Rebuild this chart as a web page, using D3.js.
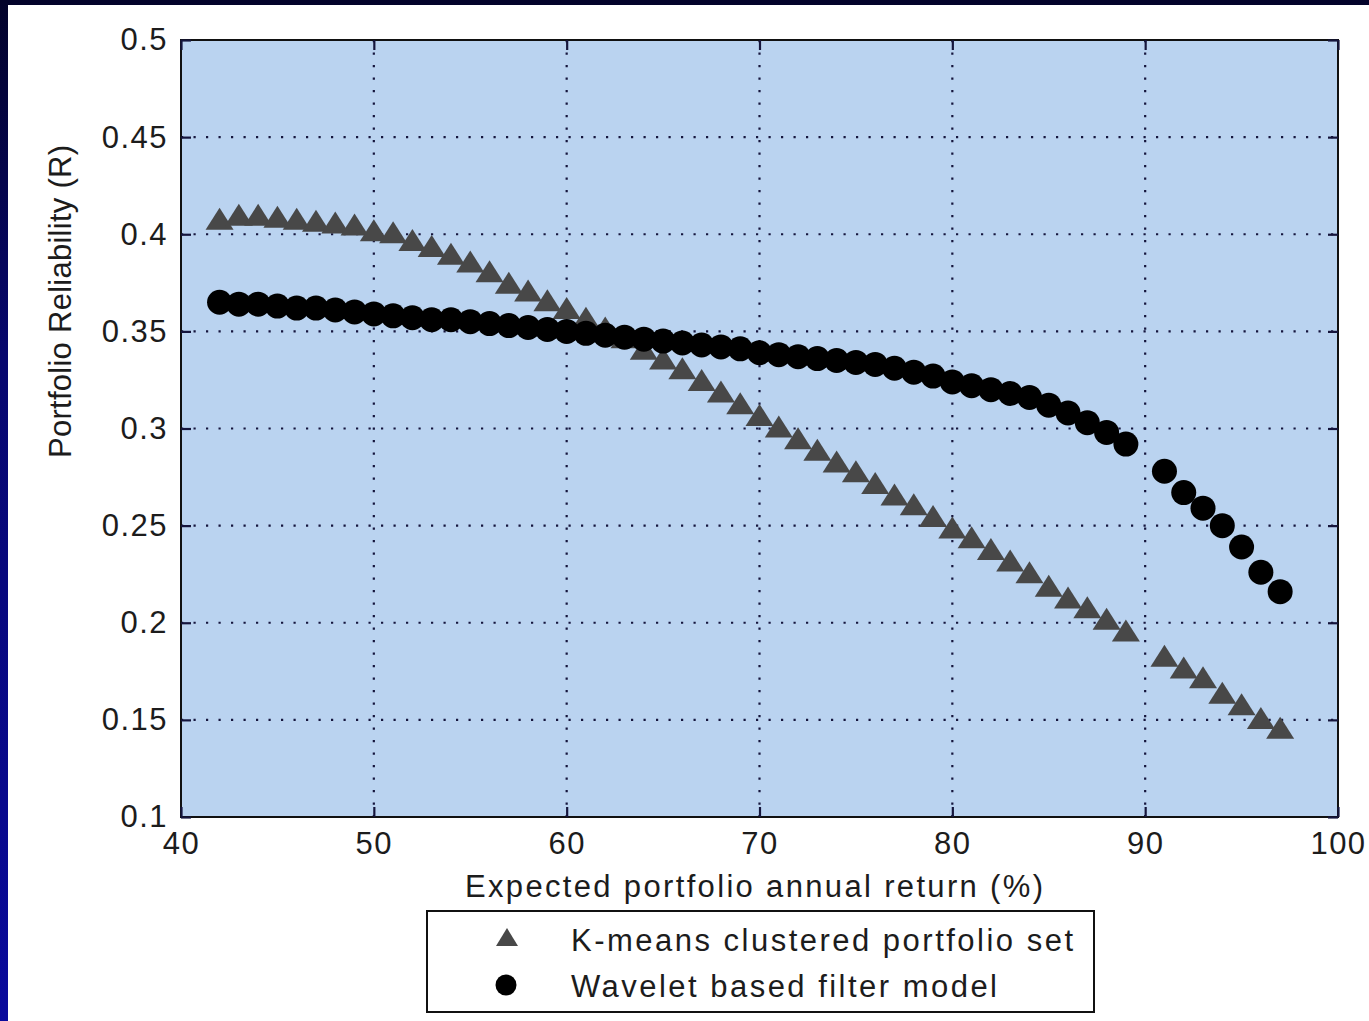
<!DOCTYPE html>
<html>
<head>
<meta charset="utf-8">
<script src="https://cdn.jsdelivr.net/npm/d3@7"></script>
<style>
  html, body { margin: 0; padding: 0; background: #05054a; }
  svg { display: block; }
  text { font-family: "Liberation Sans", Arial, sans-serif; fill: #1c1c1c; }
</style>
</head>
<body>
<svg id="chart" width="1369" height="1021"></svg>
<script>
// Expected annual return (%) of each portfolio on the frontier
const returnPct = [42, 43, 44, 45, 46, 47, 48, 49, 50, 51, 52, 53, 54, 55, 56, 57, 58, 59, 60,
  61, 62, 63, 64, 65, 66, 67, 68, 69, 70, 71, 72, 73, 74, 75, 76, 77, 78, 79, 80,
  81, 82, 83, 84, 85, 86, 87, 88, 89, 91, 92, 93, 94, 95, 96, 97];

// Portfolio reliability for the K-means clustered set
const kmeansReliability = [0.408, 0.410, 0.410, 0.409, 0.408, 0.407, 0.406, 0.405, 0.402,
  0.401, 0.397, 0.394, 0.390, 0.386, 0.381, 0.375, 0.371, 0.366, 0.362,
  0.357, 0.352, 0.347, 0.341, 0.336, 0.331, 0.325, 0.319, 0.313, 0.307,
  0.301, 0.295, 0.289, 0.283, 0.278, 0.272, 0.266, 0.261, 0.255, 0.249,
  0.244, 0.238, 0.232, 0.226, 0.219, 0.213, 0.208, 0.202, 0.196,
  0.183, 0.177, 0.172, 0.164, 0.158, 0.151, 0.146];

// Portfolio reliability for the wavelet based filter model
const waveletReliability = [0.365, 0.364, 0.364, 0.363, 0.362, 0.362, 0.361, 0.360, 0.359,
  0.358, 0.357, 0.356, 0.356, 0.355, 0.354, 0.353, 0.352, 0.351, 0.350,
  0.349, 0.348, 0.347, 0.346, 0.345, 0.344, 0.343, 0.342, 0.341, 0.339,
  0.338, 0.337, 0.336, 0.335, 0.334, 0.333, 0.331, 0.329, 0.327, 0.324,
  0.322, 0.320, 0.318, 0.316, 0.312, 0.308, 0.303, 0.298, 0.292,
  0.278, 0.267, 0.259, 0.250, 0.239, 0.226, 0.216];

const xTickValues = [40, 50, 60, 70, 80, 90, 100];
const xTickLabels = ["40", "50", "60", "70", "80", "90", "100"];
const yTickValues = [0.1, 0.15, 0.2, 0.25, 0.3, 0.35, 0.4, 0.45, 0.5];
const yTickLabels = ["0.1", "0.15", "0.2", "0.25", "0.3", "0.35", "0.4", "0.45", "0.5"];

const seriesNames = ["K-means clustered portfolio set", "Wavelet based filter model"];
const xAxisTitle = "Expected portfolio annual return (%)";
const yAxisTitle = "Portfolio Reliability (R)";

const W = 1369, H = 1021;
const plot = { left: 181, top: 40, right: 1338, bottom: 817 };

const svg = d3.select("#chart");

// Slide backdrop: dark blue gradient with the white figure panel on top
const defs = svg.append("defs");
const grad = defs.append("linearGradient").attr("id", "slideBg")
  .attr("x1", 0).attr("y1", 0).attr("x2", 0).attr("y2", 1);
grad.append("stop").attr("offset", 0).attr("stop-color", "#03032a");
grad.append("stop").attr("offset", 0.35).attr("stop-color", "#07076e");
grad.append("stop").attr("offset", 1).attr("stop-color", "#0a0a9c");
svg.append("rect").attr("width", W).attr("height", H).attr("fill", "url(#slideBg)");
svg.append("rect").attr("x", 8).attr("y", 5).attr("width", W - 8).attr("height", H - 5)
  .attr("fill", "#ffffff");

const x = d3.scaleLinear().domain([40, 100]).range([plot.left, plot.right]);
const y = d3.scaleLinear().domain([0.1, 0.5]).range([plot.bottom, plot.top]);

// Plot area
svg.append("rect")
  .attr("x", plot.left).attr("y", plot.top)
  .attr("width", plot.right - plot.left).attr("height", plot.bottom - plot.top)
  .attr("fill", "#bad3f0");

// Dotted grid
const grid = svg.append("g").attr("stroke", "#15153c").attr("stroke-width", 2.2)
  .attr("stroke-dasharray", "2.2 10.3");
grid.selectAll("line.gx").data(xTickValues.slice(1, -1)).join("line").attr("class", "gx")
  .attr("x1", d => x(d)).attr("x2", d => x(d))
  .attr("y1", plot.top).attr("y2", plot.bottom);
grid.selectAll("line.gy").data(yTickValues.slice(1, -1)).join("line").attr("class", "gy")
  .attr("y1", d => y(d)).attr("y2", d => y(d))
  .attr("x1", plot.left).attr("x2", plot.right);

// Markers
const triHalfW = 14, triHalfH = 11;
const trianglePath = `M0,${-triHalfH}L${triHalfW},${triHalfH}L${-triHalfW},${triHalfH}Z`;

const kmeansData = returnPct.map((r, i) => ({ r, v: kmeansReliability[i] }));
const waveletData = returnPct.map((r, i) => ({ r, v: waveletReliability[i] }));

svg.append("g").selectAll("path").data(kmeansData).join("path")
  .attr("d", trianglePath)
  .attr("transform", d => `translate(${x(d.r)},${y(d.v)})`)
  .attr("fill", "#484848");

svg.append("g").selectAll("circle").data(waveletData).join("circle")
  .attr("cx", d => x(d.r)).attr("cy", d => y(d.v)).attr("r", 12.5)
  .attr("fill", "#000000");

// Axes frame
svg.append("rect")
  .attr("x", plot.left).attr("y", plot.top)
  .attr("width", plot.right - plot.left).attr("height", plot.bottom - plot.top)
  .attr("fill", "none").attr("stroke", "#111111").attr("stroke-width", 2);

// Inward ticks on all four sides, labels on bottom and left
const tickLen = 10;
const xAxisB = d3.axisBottom(x).tickValues(xTickValues).tickSizeInner(-tickLen).tickSizeOuter(0)
  .tickFormat((d, i) => xTickLabels[i]).tickPadding(15);
const xAxisT = d3.axisTop(x).tickValues(xTickValues).tickSizeInner(-tickLen).tickSizeOuter(0)
  .tickFormat("");
const yAxisL = d3.axisLeft(y).tickValues(yTickValues).tickSizeInner(-tickLen).tickSizeOuter(0)
  .tickFormat((d, i) => yTickLabels[i]).tickPadding(13);
const yAxisR = d3.axisRight(y).tickValues(yTickValues).tickSizeInner(-tickLen).tickSizeOuter(0)
  .tickFormat("");

function styleAxis(g) {
  g.select(".domain").remove();
  g.selectAll(".tick line").attr("stroke", "#15153c").attr("stroke-width", 2.2);
  g.selectAll(".tick text")
    .attr("fill", "#1c1c1c")
    .style("font-family", "'Liberation Sans', Arial, sans-serif")
    .style("font-size", "31px")
    .style("letter-spacing", "1.5px");
}

svg.append("g").attr("transform", `translate(0,${plot.bottom})`).call(xAxisB).call(styleAxis)
  .selectAll(".tick text").attr("dy", "0.71em");
svg.append("g").attr("transform", `translate(0,${plot.top})`).call(xAxisT).call(styleAxis);
svg.append("g").attr("transform", `translate(${plot.left},0)`).call(yAxisL).call(styleAxis);
svg.append("g").attr("transform", `translate(${plot.right},0)`).call(yAxisR).call(styleAxis);

// Axis titles
svg.append("text")
  .attr("x", 465).attr("y", 897)
  .attr("textLength", 578).attr("lengthAdjust", "spacing")
  .style("font-size", "31px")
  .text(xAxisTitle);

svg.append("text")
  .attr("transform", "translate(71,458) rotate(-90)")
  .attr("textLength", 313).attr("lengthAdjust", "spacing")
  .style("font-size", "31px")
  .text(yAxisTitle);

// Legend
const legend = svg.append("g");
legend.append("rect")
  .attr("x", 427).attr("y", 911).attr("width", 667).attr("height", 101)
  .attr("fill", "#ffffff").attr("stroke", "#111111").attr("stroke-width", 2);

legend.append("path")
  .attr("d", `M0,-9L11,9L-11,9Z`)
  .attr("transform", "translate(507,937)")
  .attr("fill", "#484848");
legend.append("circle").attr("cx", 506).attr("cy", 985).attr("r", 10.5).attr("fill", "#000000");

legend.append("text").attr("x", 571).attr("y", 951)
  .attr("textLength", 502).attr("lengthAdjust", "spacing")
  .style("font-size", "31px").text(seriesNames[0]);
legend.append("text").attr("x", 571).attr("y", 997)
  .attr("textLength", 426).attr("lengthAdjust", "spacing")
  .style("font-size", "31px").text(seriesNames[1]);
</script>
</body>
</html>
